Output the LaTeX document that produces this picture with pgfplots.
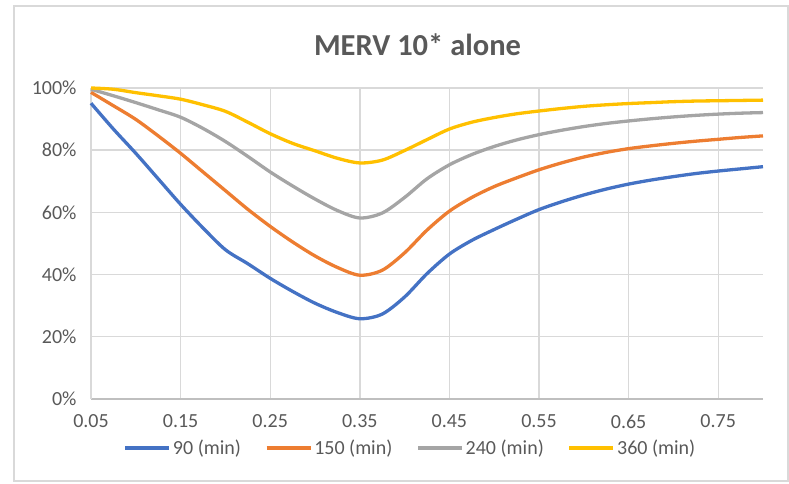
\documentclass[border=0pt]{standalone}
\usepackage{pgfplots}
\pgfplotsset{compat=1.18}
\usepackage{pgfplotstable}
\usepackage{fontspec}
\setmainfont{Carlito}
\definecolor{txt}{HTML}{595959}
\definecolor{grd}{HTML}{D9D9D9}
\definecolor{axl}{HTML}{BFBFBF}
\definecolor{c1}{HTML}{4472C4}
\definecolor{c2}{HTML}{ED7D31}
\definecolor{c3}{HTML}{A5A5A5}
\definecolor{c4}{HTML}{FFC000}
\pgfplotstableread{
x     s90  s150 s240 s360
0.05  95.1 98.6 99.6 100.0
0.075 86.8 94.3 97.5 99.6
0.10  79.0 89.9 95.3 98.5
0.125 70.8 84.6 93.0 97.5
0.15  62.6 79.0 90.6 96.4
0.175 55.0 73.0 87.0 94.6
0.20  48.0 67.0 82.8 92.5
0.225 43.5 61.0 78.0 89.0
0.25  38.8 55.5 73.0 85.3
0.275 34.6 50.5 68.5 82.2
0.30  30.8 46.0 64.3 79.8
0.325 27.8 42.3 60.6 77.4
0.35  25.8 39.8 58.2 75.9
0.375 27.3 41.4 59.8 76.8
0.40  32.8 47.0 64.8 79.9
0.425 40.3 54.3 70.8 83.4
0.45  46.6 60.4 75.3 86.8
0.475 51.0 64.8 78.6 89.0
0.50  54.5 68.3 81.2 90.5
0.525 57.8 71.1 83.3 91.7
0.55  60.9 73.7 85.0 92.6
0.575 63.4 75.9 86.4 93.4
0.60  65.6 77.8 87.6 94.1
0.625 67.5 79.3 88.6 94.6
0.65  69.1 80.5 89.4 95.0
0.675 70.4 81.4 90.1 95.3
0.70  71.5 82.2 90.7 95.6
0.725 72.5 82.9 91.2 95.8
0.75  73.3 83.5 91.6 95.9
0.775 74.0 84.1 91.9 96.0
0.80  74.7 84.6 92.1 96.1
}\data
\begin{document}
\begin{tikzpicture}[x=1pt,y=1pt]
\useasboundingbox (-91,-85) rectangle (698,399);
\draw[grd, line width=1.2pt] (-77,-82) rectangle (697,393);
\begin{axis}[
  at={(0,0)}, anchor=south west,
  scale only axis, width=672pt, height=311pt,
  xmin=0.05, xmax=0.8, ymin=0, ymax=100,
  xtick={0.05,0.15,0.25,0.35,0.45,0.55,0.65,0.75},
  ytick={0,20,40,60,80,100},
  yticklabel={\pgfmathprintnumber{\tick}\%},
  xticklabel style={/pgf/number format/fixed, /pgf/number format/fixed zerofill, /pgf/number format/precision=2, yshift=-12pt},
  /pgf/number format/assume math mode=true,
  ticklabel style={font=\fontsize{20}{24}\selectfont, text=txt},
  yticklabel style={xshift=-11pt},
  major tick length=0pt,
  grid=major,
  major grid style={grd, line width=1.4pt},
  axis x line*=bottom, axis y line*=left,
  x axis line style={axl, line width=1.4pt, -},
  y axis line style={grd, line width=1.4pt, -},
  clip=false,
  legend columns=4,
  legend style={at={(0.4754,-0.1576)}, anchor=center, draw=none, fill=none,
    font=\fontsize{20}{24}\selectfont, text=txt,
    /tikz/every even column/.append style={column sep=22pt}},
  legend image code/.code={\draw[#1] (0pt,0pt) -- (44pt,0pt);},
  every axis plot/.append style={line width=3.3pt, smooth},
]
\addplot[c1] table[x=x,y=s90] {\data};
\addplot[c2] table[x=x,y=s150] {\data};
\addplot[c3] table[x=x,y=s240] {\data};
\addplot[c4] table[x=x,y=s360] {\data};
\legend{90 (min),150 (min),240 (min),360 (min)}
\end{axis}
\node[font=\bfseries\fontsize{30.5}{34}\selectfont, text=txt] at (326.5,354) {MERV 10* alone};
\end{tikzpicture}
\end{document}
